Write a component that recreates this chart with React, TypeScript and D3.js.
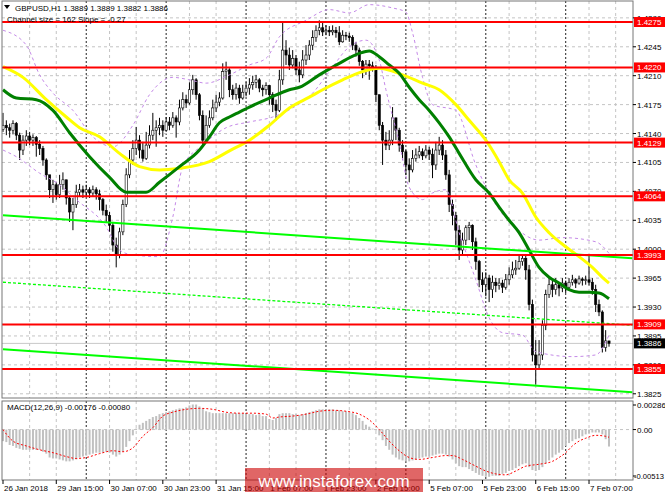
import { useEffect, useRef } from 'react';
import * as d3 from 'd3';

// GBPUSD H1 candles (prices), opens follow previous close
const firstOpen = 1.4145;

const closes = [
    1.4150, 1.4147, 1.4144, 1.4152, 1.4138, 1.4120, 1.4132, 1.4137, 1.4132, 1.4135,
    1.4127, 1.4122, 1.4108, 1.4090, 1.4072, 1.4078, 1.4066, 1.4078, 1.4084, 1.4062,
    1.4045, 1.4054, 1.4069, 1.4072, 1.4069, 1.4072, 1.4068, 1.4072, 1.4067, 1.4060,
    1.4047, 1.4041, 1.4029, 1.4005, 1.3993, 1.4021, 1.4054, 1.4090, 1.4108, 1.4122,
    1.4132, 1.4120, 1.4110, 1.4126, 1.4138, 1.4144, 1.4147, 1.4150, 1.4144, 1.4154,
    1.4150, 1.4159, 1.4154, 1.4171, 1.4181, 1.4177, 1.4193, 1.4205, 1.4187, 1.4162,
    1.4132, 1.4150, 1.4159, 1.4171, 1.4178, 1.4183, 1.4215, 1.4217, 1.4193, 1.4187,
    1.4195, 1.4183, 1.4190, 1.4195, 1.4199, 1.4202, 1.4205, 1.4195, 1.4193, 1.4198,
    1.4187, 1.4175, 1.4168, 1.4205, 1.4241, 1.4235, 1.4223, 1.4231, 1.4217, 1.4211,
    1.4229, 1.4235, 1.4247, 1.4256, 1.4265, 1.4268, 1.4263, 1.4265, 1.4263, 1.4265,
    1.4262, 1.4251, 1.4259, 1.4258, 1.4256, 1.4247, 1.4241, 1.4227, 1.4217, 1.4224,
    1.4222, 1.4219, 1.4187, 1.4150, 1.4132, 1.4126, 1.4132, 1.4159, 1.4144, 1.4126,
    1.4118, 1.4102, 1.4096, 1.4110, 1.4114, 1.4118, 1.4113, 1.4120, 1.4115, 1.4102,
    1.4120, 1.4126, 1.4114, 1.4090, 1.4054, 1.4041, 1.4023, 1.3999, 1.4011, 1.4026,
    1.4029, 1.4009, 1.3985, 1.3963, 1.3957, 1.3965, 1.3951, 1.3960, 1.3956, 1.3959,
    1.3954, 1.3963, 1.3969, 1.3975, 1.3977, 1.3985, 1.3989, 1.3975, 1.3933, 1.3872,
    1.3860, 1.3872, 1.3908, 1.3945, 1.3957, 1.3951, 1.3957, 1.3953, 1.3959, 1.3954,
    1.3960, 1.3963, 1.3959, 1.3964, 1.3962, 1.3963, 1.3960, 1.3951, 1.3933, 1.3924,
    1.3881, 1.3889, 1.3886
];

const highs = [
    1.4165, 1.4156, 1.4152, 1.4156, 1.4154, 1.4141, 1.4138, 1.4144, 1.4142, 1.4139,
    1.4137, 1.4132, 1.4125, 1.4110, 1.4090, 1.4084, 1.4081, 1.4090, 1.4093, 1.4084,
    1.4064, 1.4062, 1.4078, 1.4079, 1.4077, 1.4078, 1.4075, 1.4077, 1.4075, 1.4072,
    1.4062, 1.4054, 1.4045, 1.4033, 1.4014, 1.4026, 1.4060, 1.4098, 1.4120, 1.4132,
    1.4148, 1.4138, 1.4130, 1.4142, 1.4150, 1.4165, 1.4156, 1.4159, 1.4156, 1.4160,
    1.4160, 1.4166, 1.4162, 1.4181, 1.4190, 1.4187, 1.4202, 1.4211, 1.4207, 1.4189,
    1.4168, 1.4162, 1.4168, 1.4181, 1.4187, 1.4190, 1.4225, 1.4227, 1.4219, 1.4199,
    1.4201, 1.4199, 1.4199, 1.4202, 1.4207, 1.4210, 1.4211, 1.4207, 1.4199, 1.4202,
    1.4199, 1.4190, 1.4181, 1.4217, 1.4274, 1.4253, 1.4244, 1.4241, 1.4235, 1.4227,
    1.4241, 1.4247, 1.4253, 1.4265, 1.4271, 1.4277, 1.4275, 1.4271, 1.4270, 1.4271,
    1.4269, 1.4270, 1.4265, 1.4263, 1.4262, 1.4259, 1.4251, 1.4244, 1.4229, 1.4229,
    1.4229, 1.4227, 1.4223, 1.4187, 1.4154, 1.4142, 1.4144, 1.4172, 1.4159, 1.4147,
    1.4132, 1.4120, 1.4110, 1.4120, 1.4122, 1.4125, 1.4122, 1.4126, 1.4124, 1.4122,
    1.4130, 1.4136, 1.4132, 1.4120, 1.4096, 1.4060, 1.4045, 1.4029, 1.4020, 1.4029,
    1.4033, 1.4030, 1.4014, 1.3987, 1.3972, 1.3972, 1.3969, 1.3968, 1.3965, 1.3965,
    1.3963, 1.3970, 1.3978, 1.3985, 1.3987, 1.3993, 1.3993, 1.3993, 1.3981, 1.3939,
    1.3890, 1.3890, 1.3914, 1.3951, 1.3965, 1.3963, 1.3965, 1.3960, 1.3965, 1.3962,
    1.3965, 1.3969, 1.3965, 1.3968, 1.3966, 1.3968, 1.3992, 1.3965, 1.3957, 1.3939,
    1.3926, 1.3902, 1.3889
];

const lows = [
    1.4142, 1.4138, 1.4135, 1.4139, 1.4132, 1.4108, 1.4114, 1.4125, 1.4126, 1.4125,
    1.4112, 1.4114, 1.4101, 1.4084, 1.4062, 1.4056, 1.4060, 1.4062, 1.4072, 1.4054,
    1.4033, 1.4023, 1.4050, 1.4064, 1.4062, 1.4064, 1.4062, 1.4064, 1.4060, 1.4047,
    1.4041, 1.4033, 1.4021, 1.3997, 1.3978, 1.3989, 1.4017, 1.4051, 1.4086, 1.4102,
    1.4114, 1.4110, 1.4106, 1.4108, 1.4122, 1.4132, 1.4124, 1.4138, 1.4136, 1.4142,
    1.4144, 1.4147, 1.4135, 1.4150, 1.4168, 1.4171, 1.4175, 1.4187, 1.4181, 1.4156,
    1.4124, 1.4129, 1.4147, 1.4156, 1.4166, 1.4173, 1.4181, 1.4205, 1.4184, 1.4181,
    1.4181, 1.4176, 1.4181, 1.4185, 1.4187, 1.4193, 1.4195, 1.4190, 1.4185, 1.4187,
    1.4175, 1.4166, 1.4156, 1.4166, 1.4199, 1.4223, 1.4217, 1.4219, 1.4211, 1.4202,
    1.4207, 1.4223, 1.4229, 1.4241, 1.4251, 1.4259, 1.4258, 1.4259, 1.4258, 1.4259,
    1.4256, 1.4247, 1.4250, 1.4253, 1.4251, 1.4241, 1.4233, 1.4222, 1.4207, 1.4211,
    1.4205, 1.4215, 1.4178, 1.4144, 1.4102, 1.4120, 1.4120, 1.4126, 1.4132, 1.4118,
    1.4108, 1.4090, 1.4081, 1.4093, 1.4106, 1.4110, 1.4108, 1.4110, 1.4108, 1.4086,
    1.4096, 1.4114, 1.4108, 1.4084, 1.4045, 1.4029, 1.4005, 1.3987, 1.3992, 1.4005,
    1.4011, 1.3999, 1.3975, 1.3954, 1.3948, 1.3943, 1.3936, 1.3941, 1.3948, 1.3951,
    1.3947, 1.3951, 1.3957, 1.3965, 1.3969, 1.3975, 1.3980, 1.3963, 1.3926, 1.3864,
    1.3836, 1.3854, 1.3866, 1.3902, 1.3941, 1.3942, 1.3945, 1.3943, 1.3948, 1.3947,
    1.3951, 1.3956, 1.3953, 1.3957, 1.3956, 1.3957, 1.3956, 1.3945, 1.3924, 1.3919,
    1.3875, 1.3876, 1.3882
];

// moving averages (sampled at bar indices)
const greenIdx = [0, 4, 10, 15, 20, 26, 32, 37, 43, 47, 53, 59, 62, 65, 68, 71, 74, 80, 86, 89, 95, 101, 107, 110, 113, 116, 119, 122, 125, 128, 131, 134, 137, 142, 146, 149, 152, 155, 158, 161, 164, 167, 170, 173, 176, 179, 182];
const greenMa = [1.4193, 1.4183, 1.4181, 1.4168, 1.4141, 1.4112, 1.4087, 1.4069, 1.4069, 1.4081, 1.4100, 1.4120, 1.4136, 1.4153, 1.4160, 1.4166, 1.4172, 1.4183, 1.4193, 1.4196, 1.4211, 1.4225, 1.4237, 1.4240, 1.4233, 1.4223, 1.4213, 1.4196, 1.4181, 1.4168, 1.4153, 1.4136, 1.4116, 1.4084, 1.4068, 1.4051, 1.4035, 1.4020, 1.3999, 1.3978, 1.3966, 1.3959, 1.3951, 1.3948, 1.3948, 1.3947, 1.3940];

const yellowIdx = [0, 6, 13, 19, 23, 29, 35, 41, 47, 53, 62, 68, 74, 80, 86, 92, 96, 102, 108, 113, 120, 126, 131, 136, 140, 145, 149, 152, 156, 160, 164, 169, 173, 177, 180, 182];
const yellowMa = [1.4221, 1.4208, 1.4181, 1.4160, 1.4147, 1.4136, 1.4116, 1.4100, 1.4096, 1.4098, 1.4106, 1.4119, 1.4132, 1.4150, 1.4171, 1.4184, 1.4193, 1.4205, 1.4215, 1.4219, 1.4211, 1.4201, 1.4193, 1.4175, 1.4156, 1.4132, 1.4106, 1.4084, 1.4068, 1.4039, 1.4020, 1.4003, 1.3991, 1.3978, 1.3966, 1.3959];

// envelope bands
const upperIdx = [0, 7, 11, 15, 21, 27, 33, 39, 44, 51, 56, 61, 68, 74, 79, 83, 91, 98, 104, 110, 117, 121, 123, 126, 129, 136, 142, 148, 154, 161, 168, 178, 182];
const upperBand = [1.4265, 1.4247, 1.4211, 1.4189, 1.4168, 1.4136, 1.4124, 1.4150, 1.4187, 1.4208, 1.4205, 1.4201, 1.4211, 1.4223, 1.4231, 1.4257, 1.4277, 1.4290, 1.4286, 1.4296, 1.4292, 1.4287, 1.4262, 1.4208, 1.4175, 1.4168, 1.4102, 1.4054, 1.4026, 1.4011, 1.4014, 1.4009, 1.3995];
const lowerIdx = [0, 4, 11, 17, 22, 31, 35, 39, 47, 51, 54, 60, 67, 74, 81, 87, 93, 98, 104, 109, 113, 115, 119, 122, 126, 129, 133, 137, 142, 146, 150, 156, 160, 171, 178, 182];
const lowerBand = [1.4120, 1.4112, 1.4092, 1.4078, 1.4060, 1.4027, 1.3999, 1.3993, 1.3991, 1.4039, 1.4100, 1.4126, 1.4147, 1.4154, 1.4160, 1.4171, 1.4189, 1.4215, 1.4245, 1.4253, 1.4229, 1.4193, 1.4129, 1.4075, 1.4060, 1.4068, 1.4072, 1.4020, 1.3963, 1.3917, 1.3899, 1.3896, 1.3876, 1.3870, 1.3872, 1.3896];

// regression channel (start bar, right edge)
const channelIdx = [0, 189];
const channelUpper = [1.4041, 1.3989];
const channelMiddle = [1.3960, 1.3908];
const channelLower = [1.3879, 1.3827];

// horizontal levels
const levels = [1.4275, 1.4220, 1.4129, 1.4064, 1.3993, 1.3909, 1.3855];
const lastPrice = 1.3886;

// MACD(12,26,9)
const macdHist = [
    -0.0012, -0.0013, -0.0016, -0.0017, -0.0019, -0.0020, -0.0021, -0.0021, -0.0021, -0.0021,
    -0.0021, -0.0021, -0.0023, -0.0025, -0.0029, -0.0030, -0.0030, -0.0031, -0.0032, -0.0033,
    -0.0033, -0.0032, -0.0031, -0.0029, -0.0028, -0.0027, -0.0026, -0.0025, -0.0024, -0.0024,
    -0.0024, -0.0023, -0.0024, -0.0026, -0.0028, -0.0026, -0.0023, -0.0018, -0.0012, -0.0006,
    0.0001, 0.0005, 0.0007, 0.0009, 0.0011, 0.0013, 0.0014, 0.0016, 0.0017, 0.0018,
    0.0019, 0.0020, 0.0021, 0.0022, 0.0022, 0.0023, 0.0025, 0.0026, 0.0026, 0.0024,
    0.0022, 0.0019, 0.0018, 0.0017, 0.0017, 0.0017, 0.0017, 0.0017, 0.0017, 0.0017,
    0.0017, 0.0017, 0.0017, 0.0016, 0.0016, 0.0016, 0.0015, 0.0016, 0.0014, 0.0014,
    0.0011, 0.0010, 0.0012, 0.0016, 0.0017, 0.0017, 0.0017, 0.0016, 0.0016, 0.0015,
    0.0016, 0.0017, 0.0018, 0.0019, 0.0020, 0.0021, 0.0021, 0.0021, 0.0021, 0.0021,
    0.0020, 0.0020, 0.0019, 0.0019, 0.0018, 0.0017, 0.0015, 0.0012, 0.0009, 0.0005,
    0.0003, 0.0001, -0.0001, -0.0006, -0.0011, -0.0017, -0.0021, -0.0026, -0.0029, -0.0031,
    -0.0032, -0.0033, -0.0033, -0.0032, -0.0031, -0.0030, -0.0029, -0.0028, -0.0028, -0.0027,
    -0.0026, -0.0025, -0.0025, -0.0026, -0.0028, -0.0031, -0.0035, -0.0038, -0.0039, -0.0039,
    -0.0041, -0.0043, -0.0045, -0.0047, -0.0048, -0.0049, -0.0049, -0.0048, -0.0048, -0.0048,
    -0.0046, -0.0045, -0.0043, -0.0042, -0.0040, -0.0038, -0.0036, -0.0035, -0.0039, -0.0042,
    -0.0043, -0.0042, -0.0039, -0.0035, -0.0032, -0.0029, -0.0026, -0.0024, -0.0021, -0.0017,
    -0.0014, -0.0012, -0.0010, -0.0009, -0.0007, -0.0005, -0.0004, -0.0003, -0.0003, -0.0003,
    -0.0005, -0.0010, -0.00176
];
const signalIdx = [0, 3, 7, 11, 15, 19, 22, 25, 29, 33, 36, 39, 42, 45, 48, 51, 55, 59, 63, 67, 71, 75, 79, 81, 83, 87, 91, 95, 99, 103, 107, 110, 113, 116, 119, 122, 125, 129, 133, 135, 138, 142, 145, 148, 151, 154, 157, 161, 165, 167, 169, 171, 173, 175, 178, 181, 182];
const signalLine = [0.0000, -0.0012, -0.0017, -0.0021, -0.0024, -0.0028, -0.0030, -0.0029, -0.0025, -0.0022, -0.0023, -0.0019, -0.0007, 0.0002, 0.0014, 0.0018, 0.0021, 0.0022, 0.0021, 0.0018, 0.0017, 0.0017, 0.0016, 0.0012, 0.0013, 0.0014, 0.0016, 0.0019, 0.0020, 0.0019, 0.0016, 0.0010, 0.0000, -0.0012, -0.0022, -0.0029, -0.0031, -0.0029, -0.0027, -0.0027, -0.0031, -0.0038, -0.0043, -0.0046, -0.0047, -0.0043, -0.0038, -0.0036, -0.0033, -0.0029, -0.0024, -0.0017, -0.0012, -0.0009, -0.0006, -0.0007, -0.0008];

// axes
const priceTicks = [1.4280, 1.4245, 1.4210, 1.4175, 1.4140, 1.4105, 1.4070, 1.4035, 1.4000, 1.3965, 1.3930, 1.3895, 1.3860, 1.3825];
const timeIdx = [0, 16, 32, 48, 64, 80, 96, 112, 128, 144, 160, 176];
const timeText = ['26 Jan 2018', '29 Jan 15:00', '30 Jan 07:00', '30 Jan 23:00', '31 Jan 15:00', '1 Feb 07:00', '1 Feb 23:00', '2 Feb 15:00', '5 Feb 07:00', '5 Feb 23:00', '6 Feb 15:00', '7 Feb 07:00'];
const daySeps = [25, 49, 73, 97, 121, 145, 169];

const FONT = '"Liberation Sans", Arial, sans-serif';

export default function App() {
    const svgRef = useRef<SVGSVGElement>(null);

    useEffect(() => {
        if (!svgRef.current) return;
        const svg = d3.select(svgRef.current);
        svg.selectAll('*').remove();

        const left = 2, right = 633;
        const mainTop = 1, mainBottom = 398;
        const macdTop = 401, macdBottom = 480;
        const n = closes.length;

        const x = d3.scaleLinear().domain([0, n - 1]).range([3, 609]);
        const y = d3.scaleLinear().domain([1.3855, 1.4275]).range([369, 22]);
        const ym = d3.scaleLinear().domain([-0.00513, 0.00286]).range([479, 402]);
        const opens = closes.map((c, i) => (i === 0 ? firstOpen : closes[i - 1]));

        svg.append('rect').attr('width', 665).attr('height', 499).attr('fill', '#fff');

        const defs = svg.append('defs');
        defs.append('clipPath').attr('id', 'clip-main').append('rect')
            .attr('x', left).attr('y', mainTop).attr('width', right - left).attr('height', mainBottom - mainTop);
        defs.append('clipPath').attr('id', 'clip-macd').append('rect')
            .attr('x', left).attr('y', macdTop).attr('width', right - left).attr('height', macdBottom - macdTop);

        const main = svg.append('g').attr('clip-path', 'url(#clip-main)');
        const macd = svg.append('g').attr('clip-path', 'url(#clip-macd)');

        // Grid
        const gridIdx = d3.range(8, n + 8, 8).filter(i => i % 24 !== 0);
        [[main, mainTop, mainBottom], [macd, macdTop, macdBottom]].forEach(([g, t, b]: any) => {
            g.selectAll('.vgrid').data(gridIdx).join('line')
                .attr('x1', (i: number) => x(i)).attr('x2', (i: number) => x(i))
                .attr('y1', t).attr('y2', b)
                .attr('stroke', '#c4c4c4').attr('stroke-dasharray', '3,3');
            g.selectAll('.dsep').data(daySeps).join('line')
                .attr('x1', (i: number) => x(i)).attr('x2', (i: number) => x(i))
                .attr('y1', t).attr('y2', b)
                .attr('stroke', '#222').attr('stroke-dasharray', '2,2');
        });
        main.selectAll('.hgrid').data(priceTicks).join('line')
            .attr('x1', left).attr('x2', right)
            .attr('y1', d => y(d)).attr('y2', d => y(d))
            .attr('stroke', '#c4c4c4').attr('stroke-dasharray', '3,3');
        macd.append('line')
            .attr('x1', left).attr('x2', right).attr('y1', ym(0)).attr('y2', ym(0))
            .attr('stroke', '#c4c4c4').attr('stroke-dasharray', '3,3');

        // Last price line
        main.append('line')
            .attr('x1', left).attr('x2', right).attr('y1', y(lastPrice)).attr('y2', y(lastPrice))
            .attr('stroke', '#c8c8c8');

        // Candles
        const idx = d3.range(n);
        main.selectAll('.wick').data(idx).join('line')
            .attr('x1', i => x(i)).attr('x2', i => x(i))
            .attr('y1', i => y(Math.max(highs[i], opens[i], closes[i])))
            .attr('y2', i => y(Math.min(lows[i], opens[i], closes[i])))
            .attr('stroke', '#000').attr('stroke-width', 1);
        main.selectAll('.body').data(idx).join('rect')
            .attr('x', i => x(i) - 1.1)
            .attr('width', 2.2)
            .attr('y', i => y(Math.max(opens[i], closes[i])))
            .attr('height', i => Math.max(0.8, Math.abs(y(opens[i]) - y(closes[i]))))
            .attr('fill', i => (closes[i] >= opens[i] ? '#fff' : '#000'))
            .attr('stroke', '#000').attr('stroke-width', 0.6);

        // Bands
        const bandLine = (ids: number[]) => d3.line<number>()
            .x((_, k) => x(ids[k])).y(d => y(d)).curve(d3.curveMonotoneX);
        main.append('path').datum(upperBand).attr('d', bandLine(upperIdx))
            .attr('fill', 'none').attr('stroke', '#c58ae8').attr('stroke-dasharray', '3,3');
        main.append('path').datum(lowerBand).attr('d', bandLine(lowerIdx))
            .attr('fill', 'none').attr('stroke', '#c58ae8').attr('stroke-dasharray', '3,3');

        // Moving averages
        main.append('path').datum(yellowMa).attr('d', bandLine(yellowIdx))
            .attr('fill', 'none').attr('stroke', '#ffff00').attr('stroke-width', 3);
        main.append('path').datum(greenMa).attr('d', bandLine(greenIdx))
            .attr('fill', 'none').attr('stroke', '#008000').attr('stroke-width', 3);

        // Channel
        const chan = d3.line<number>().x((_, k) => x(channelIdx[k])).y(d => y(d));
        main.append('path').datum(channelUpper).attr('d', chan)
            .attr('stroke', '#00ff00').attr('stroke-width', 2).attr('fill', 'none');
        main.append('path').datum(channelLower).attr('d', chan)
            .attr('stroke', '#00ff00').attr('stroke-width', 2).attr('fill', 'none');
        main.append('path').datum(channelMiddle).attr('d', chan)
            .attr('stroke', '#00ff00').attr('stroke-width', 1.3).attr('stroke-dasharray', '3,2').attr('fill', 'none');

        // Levels
        main.selectAll('.level').data(levels).join('line')
            .attr('x1', left).attr('x2', right)
            .attr('y1', d => y(d)).attr('y2', d => y(d))
            .attr('stroke', '#ff0000').attr('stroke-width', 2);

        // MACD histogram + signal
        macd.selectAll('.hist').data(idx).join('rect')
            .attr('x', i => x(i) - 1)
            .attr('width', 2)
            .attr('y', i => Math.min(ym(0), ym(macdHist[i])))
            .attr('height', i => Math.abs(ym(macdHist[i]) - ym(0)))
            .attr('fill', '#c0c0c0');
        macd.append('path').datum(signalLine)
            .attr('d', d3.line<number>().x((_, k) => x(signalIdx[k])).y(d => ym(d)).curve(d3.curveMonotoneX))
            .attr('fill', 'none').attr('stroke', '#ff0000').attr('stroke-dasharray', '2,2');

        // Frames
        svg.append('rect').attr('x', left).attr('y', mainTop).attr('width', right - left).attr('height', mainBottom - mainTop)
            .attr('fill', 'none').attr('stroke', '#777');
        svg.append('rect').attr('x', left).attr('y', macdTop).attr('width', right - left).attr('height', macdBottom - macdTop)
            .attr('fill', 'none').attr('stroke', '#777');

        // Right axis
        const axis = svg.append('g').attr('font-family', FONT).attr('font-size', 8).attr('fill', '#000');
        priceTicks.forEach(p => {
            axis.append('line').attr('x1', right).attr('x2', right + 3).attr('y1', y(p)).attr('y2', y(p)).attr('stroke', '#000');
            axis.append('text').attr('x', right + 4).attr('y', y(p) + 3).text(p.toFixed(4));
        });
        const macdTicks: [number, string][] = [[0.00286, '0.00286'], [0, '0.00'], [-0.00513, '-0.00513']];
        macdTicks.forEach(([v, s], k) => {
            const ty = k === 0 ? ym(v) + 3 : k === 2 ? ym(v) - 3 : ym(v);
            axis.append('line').attr('x1', right).attr('x2', right + 3).attr('y1', ty).attr('y2', ty).attr('stroke', '#000');
            axis.append('text').attr('x', k === 2 ? right + 1 : right + 4).attr('y', ty + 3)
                .attr('font-size', k === 2 ? 7.6 : 8).text(s);
        });
        levels.forEach(p => {
            axis.append('rect').attr('x', right + 1).attr('y', y(p) - 5).attr('width', 31).attr('height', 10).attr('fill', '#ff0000');
            axis.append('text').attr('x', right + 4).attr('y', y(p) + 3).attr('fill', '#fff').text(p.toFixed(4));
        });
        axis.append('rect').attr('x', right + 1).attr('y', y(lastPrice) - 5).attr('width', 31).attr('height', 10).attr('fill', '#000');
        axis.append('text').attr('x', right + 4).attr('y', y(lastPrice) + 3).attr('fill', '#fff').text(lastPrice.toFixed(4));

        // Time axis
        timeIdx.forEach((i, k) => {
            axis.append('line').attr('x1', x(i)).attr('x2', x(i)).attr('y1', macdBottom).attr('y2', macdBottom + 4).attr('stroke', '#000');
            axis.append('text').attr('x', x(i) + 1).attr('y', 491).text(timeText[k]);
        });

        // Header texts
        svg.append('path').attr('d', 'M4,5 L10,5 L7,9 Z').attr('fill', '#000');
        axis.append('text').attr('x', 15).attr('y', 11).text('GBPUSD,H1  1.3889 1.3889 1.3882 1.3886');
        axis.append('text').attr('x', 7).attr('y', 22).text('Channel size = 162 Slope = -0.27');
        axis.append('text').attr('x', 7).attr('y', 410).text('MACD(12,26,9) -0.00176 -0.00080');

        // Watermark
        svg.append('rect').attr('x', 245).attr('y', 468).attr('width', 178).attr('height', 24)
            .attr('fill', 'rgba(204,0,0,0.6)');
        svg.append('text').attr('x', 334).attr('y', 487).attr('text-anchor', 'middle')
            .attr('font-family', FONT).attr('font-size', 17).attr('fill', '#fff')
            .text('www.instaforex.com');
    }, []);

    return (
        <svg
            ref={svgRef}
            width={665}
            height={499}
            style={{ position: 'absolute', left: 0, top: 0, display: 'block' }}
        />
    );
}
